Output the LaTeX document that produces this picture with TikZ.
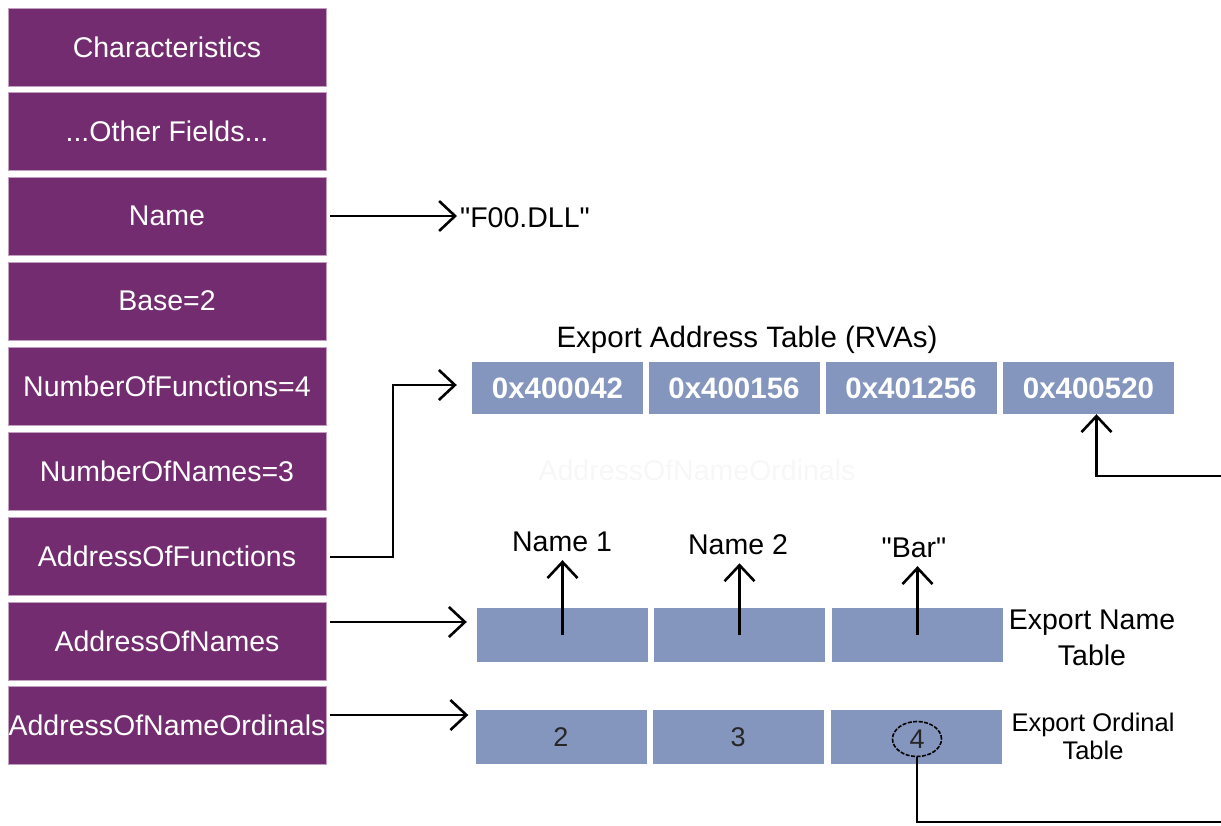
\documentclass[tikz,border=0pt]{standalone}
\usepackage{fontspec}
\setmainfont{Liberation Sans}
\usetikzlibrary{arrows.meta,shapes.geometric}
\definecolor{hdr}{RGB}{114,44,111}
\definecolor{tbl}{RGB}{132,150,190}
\tikzset{
 field/.style={fill=hdr, draw=hdr!45!white, line width=0.8pt, minimum width=318pt, minimum height=78pt, inner sep=0pt, text=white, font=\fontsize{28.5}{32}\selectfont},
 cell/.style={fill=tbl, minimum width=171pt, minimum height=52pt, inner sep=0pt, text=white, font=\fontsize{29.5}{32}\selectfont\bfseries},
 ncell/.style={fill=tbl, minimum width=171pt, minimum height=54pt, inner sep=0pt, text=black!85, font=\fontsize{27}{30}\selectfont},
 lbl/.style={font=\fontsize{28.5}{32}\selectfont, inner sep=0pt},
 conn/.style={line width=2.6pt, -{Straight Barb[length=16pt,width=30pt,line width=2.6pt]}},
 plain/.style={line width=2.6pt},
}
\begin{document}
\begin{tikzpicture}[x=1pt,y=-1pt]
\useasboundingbox (0,0) rectangle (1221,825);
% header fields
\node[field] (f1) at (167,47) {Characteristics};
\node[field] (f2) at (167,131) {...Other Fields...};
\node[field] (f3) at (167,216) {Name};
\node[field] (f4) at (167,301) {Base=2};
\node[field] (f5) at (167,386) {NumberOfFunctions=4};
\node[field] (f6) at (167,471) {NumberOfNames=3};
\node[field] (f7) at (167,556) {AddressOfFunctions};
\node[field] (f8) at (167,641) {AddressOfNames};
\node[field] (f9) at (167,725) {AddressOfNameOrdinals};
% name string
\node[lbl, anchor=west] (dll) at (460,218) {\textquotedbl F00.DLL\textquotedbl};
\draw[conn] ([xshift=4pt]f3.east) -- ([xshift=-3pt]f3.east -| dll.west);
% export address table
\node[lbl, font=\fontsize{29.5}{32}\selectfont] (eatl) at (747,340) {Export Address Table (RVAs)};
\node[cell] (e1) at (557.5,388) {0x400042};
\node[cell] (e2) at (734,388) {0x400156};
\node[cell] (e3) at (911,388) {0x401256};
\node[cell] (e4) at (1088.5,388) {0x400520};
\coordinate (j1) at (393,470);
\draw[conn] ([xshift=4pt,yshift=-1pt]f7.east) -| (j1) |- ([xshift=-15pt,yshift=3pt]e1.west);
% faint ghost text
\node[lbl, text=black!3] (ghost) at (697,470) {AddressOfNameOrdinals};
% export name table
\node[ncell] (n1) at (562.5,635) {};
\node[ncell] (n2) at (739.5,635) {};
\node[ncell] (n3) at (917.5,635) {};
\node[lbl, align=center, font=\fontsize{28.5}{36}\selectfont] (entl) at (1092,638) {Export Name\\Table};
\draw[conn] ([xshift=4pt,yshift=19pt]f8.east) -- ([xshift=-10pt,yshift=19pt]f8.east -| n1.west);
\node[lbl] (nm1) at (562,542) {Name 1};
\node[lbl] (nm2) at (738,545) {Name 2};
\node[lbl] (nm3) at (914,548) {\textquotedbl Bar\textquotedbl};
\draw[conn] (n1.center) -- ([yshift=-8pt]n1.center |- nm1.south);
\draw[conn] (n2.center) -- ([yshift=-8pt]n2.center |- nm2.south);
\draw[conn] (n3.center) -- ([yshift=-8pt]n3.center |- nm3.south);
% export ordinal table
\node[ncell] (o1) at (561,737) {2};
\node[ncell] (o2) at (738,737) {3};
\node[ncell] (o3) at (916,737) {};
\node[ellipse, draw=black, line width=1.6pt, dash pattern=on 4pt off 1.5pt, minimum width=49pt, minimum height=35pt, inner sep=0pt, font=\fontsize{27}{30}\selectfont, text=black!85] (o4) at (917,739) {4};
\node[lbl, align=center, font=\fontsize{25.5}{28}\selectfont] (eotl) at (1093,736) {Export Ordinal\\Table};
\draw[conn] ([xshift=4pt,yshift=10pt]f9.east) -- ([xshift=-7pt,yshift=10pt]f9.east -| o1.west);
% links leaving the picture
\coordinate (edgeA) at (1221,822);
\coordinate (edgeB) at (1221,476);
\draw[plain] (o4.south) |- (edgeA);
\draw[conn] (edgeB) -| ([xshift=8pt]e4.south);
\end{tikzpicture}
\end{document}
